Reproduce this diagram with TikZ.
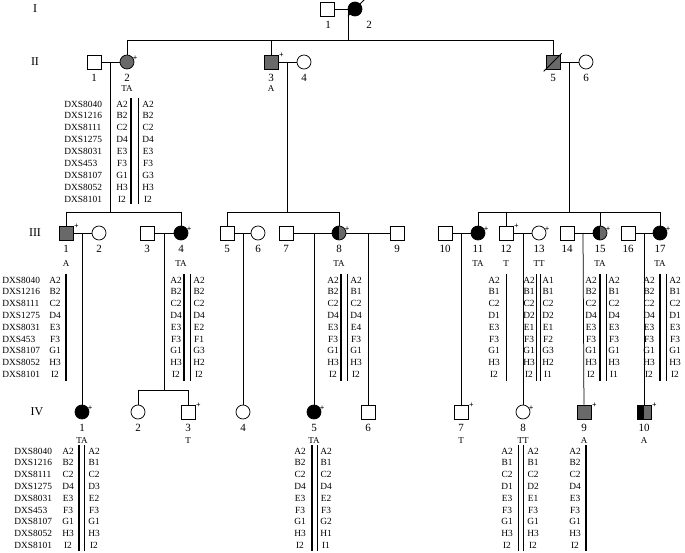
\documentclass[tikz,border=0pt]{standalone}
\usepackage{fontspec}
\setmainfont{Liberation Serif}
\definecolor{affgray}{RGB}{105,105,105}
\tikzset{every picture/.style={line width=0.75pt}}
\tikzset{
  male/.style={draw,rectangle,minimum size=14pt,inner sep=0pt},
  female/.style={draw,circle,minimum size=14pt,inner sep=0pt},
  halffill/.style={path picture={
    \fill[black] (path picture bounding box.north west) rectangle (path picture bounding box.south);
    \fill[affgray] (path picture bounding box.north) rectangle (path picture bounding box.south east);}},
  lbl/.style={inner sep=0pt,font=\fontsize{11}{11}\selectfont},
  gt/.style={inner sep=0pt,font=\fontsize{9}{9}\selectfont},
  al/.style={inner sep=0pt,font=\fontsize{9.4}{9.4}\selectfont},
  gen/.style={inner sep=0pt,font=\fontsize{12}{12}\selectfont},
  thickbar/.style={line width=2.2pt},
  thinbar/.style={line width=0.8pt},
}
% column of alleles: x, top y, step, list
\newcommand{\hapcol}[4]{\edef\hlist{#4}\foreach \a [count=\i] in \hlist \node[al] at (#1,{#2+(\i-1)*#3}) {\a};}
% marker names
\newcommand{\markers}[3]{\foreach \m [count=\i] in {DXS8040,DXS1216,DXS8111,DXS1275,DXS8031,DXS453,DXS8107,DXS8052,DXS8101}
  \node[al,anchor=west] at (#1,{#2+(\i-1)*#3}) {\m};}
\newcommand{\plus}[1]{\node[inner sep=0pt,font=\fontsize{8}{8}\selectfont\bfseries] at ([xshift=3pt,yshift=1pt]#1.north east) {+};}
\newcommand{\hapA}{A2,B2,C2,D4,E3,F3,G1,H3,I2}

\begin{document}
\begin{tikzpicture}[x=1pt,y=1pt,yscale=-1,xscale=1]
\useasboundingbox (0,0) rectangle (685,553);

% generation labels
\node[gen] (gI) at (35,9) {I};
\node[gen] (gII) at (35,62) {II};
\node[gen] (gIII) at (35,233) {III};
\node[gen] (gIV) at (37,412) {IV};

% Generation I
\node[male] (I1) at (327,9) {};
\node[female,fill=black] (I2) at (355,9) {};
\draw (I2.south west) ++(-2,2) -- ++(17,-17);
\node[lbl] at (328,25) {1};
\node[lbl] at (369,25) {2};
\draw (I1) -- (I2);
\coordinate (cI) at (348,9);
\coordinate (sI) at (348,40);
\draw (cI) -- (sI);
\draw (127,40) -- (553,40);

% Generation II
\node[male] (II1) at (94,62) {};
\node[female,fill=affgray] (II2) at (127,62) {};
\node[male,fill=affgray] (II3) at (271,62) {};
\node[female] (II4) at (304,62) {};
\node[male,fill=affgray] (II5) at (553,62) {};
\node[female] (II6) at (586,62) {};
\draw (II5.south west) ++(-2,2) -- ++(18,-18);
\plus{II2} \plus{II3}
\foreach \n/\x in {1/94,2/127,3/271,4/304,5/553,6/586} \node[lbl] at (\x,78) {\n};
\node[gt] at (127,89) {TA};
\node[gt] at (271,89) {A};
\draw (II2) -- (127,40);
\draw (II3) -- (271,40);
\draw (II5) -- (553,40);
\draw (II1) -- (II2);
\draw (II3) -- (II4);
\draw (II5) -- (II6);
\draw (110,62) -- (110,212);
\draw (287,62) -- (287,212);
\draw (569,62) -- (569,212);

% haplotype II-2
\markers{64}{104}{11.9}
\hapcol{122}{104}{11.9}{\hapA}
\hapcol{148}{104}{11.9}{A2,B2,C2,D4,E3,F3,G3,H3,I2}
\draw[thickbar] (131,98) -- (131,204);
\draw[thinbar] (138,98) -- (138,204);

% Generation III
\node[male,fill=affgray] (III1) at (66,233) {};
\node[female] (III2) at (99,233) {};
\node[male] (III3) at (147,233) {};
\node[female,fill=black] (III4) at (181,233) {};
\node[male] (III5) at (227,233) {};
\node[female] (III6) at (258,233) {};
\node[male] (III7) at (286,233) {};
\node[female,halffill] (III8) at (339,233) {};
\node[male] (III9) at (397,233) {};
\node[male] (III10) at (445,233) {};
\node[female,fill=black] (III11) at (478,233) {};
\node[male] (III12) at (506,233) {};
\node[female] (III13) at (539,233) {};
\node[male] (III14) at (567,233) {};
\node[female,halffill] (III15) at (600,233) {};
\node[male] (III16) at (628,233) {};
\node[female,fill=black] (III17) at (660,233) {};
\foreach \n in {1,4,8,11,12,13,15,17} {\plus{III\n}}
\foreach \n/\x in {1/66,2/99,3/147,4/181,5/227,6/258,7/286,8/339,9/397,10/445,11/478,12/506,13/539,14/567,15/600,16/628,17/660}
  \node[lbl] at (\x,249) {\n};
\foreach \t/\x in {A/66,TA/181,TA/339,TA/478,T/506,TT/539,TA/600,TA/660}
  \node[gt] at (\x,264) {\t};
% sibships
\draw (66,212) -- (181,212);
\draw (227,212) -- (339,212);
\draw (478,212) -- (660,212);
\foreach \n in {1,4,5,8,11,12,15,17} {\draw (III\n.north) -- (III\n.north |- 0,212);}
% couples
\draw (III1) -- (III2);
\draw (III3) -- (III4);
\draw (III5) -- (III6);
\draw (III7) -- (III8);
\draw (III8) -- (III9);
\draw (III10) -- (III11);
\draw (III12) -- (III13);
\draw (III14) -- (III15);
\draw (III16) -- (III17);

% haplotypes III
\markers{2}{280}{11.8}
\hapcol{55}{280}{11.8}{\hapA}
\draw[thickbar] (66,274) -- (66,381);
\hapcol{176}{280}{11.8}{\hapA}
\hapcol{199}{280}{11.8}{A2,B2,C2,D4,E2,F1,G3,H2,I2}
\draw[thickbar] (184,274) -- (184,381);
\draw[thinbar] (190,274) -- (190,381);
\hapcol{333}{280}{11.8}{\hapA}
\hapcol{356}{280}{11.8}{A2,B1,C2,D4,E4,F3,G1,H3,I2}
\draw[thickbar] (341,274) -- (341,381);
\draw[thinbar] (347,274) -- (347,381);
\hapcol{494}{280}{11.8}{A2,B1,C2,D1,E3,F3,G1,H3,I2}
\draw[thinbar] (506,274) -- (506,381);
\hapcol{529}{280}{11.8}{A2,B1,C2,D2,E1,F3,G1,H3,I2}
\hapcol{548}{280}{11.8}{A1,B1,C2,D2,E1,F2,G3,H2,I1}
\draw[thinbar] (536,274) -- (536,381);
\draw[thinbar] (540,274) -- (540,381);
\hapcol{591}{280}{11.8}{\hapA}
\hapcol{614}{280}{11.8}{A2,B1,C2,D4,E3,F3,G1,H3,I1}
\draw[thickbar] (600,274) -- (600,381);
\draw[thinbar] (606,274) -- (606,381);
\hapcol{649}{280}{11.8}{\hapA}
\hapcol{675}{280}{11.8}{A2,B1,C2,D1,E3,F3,G1,H3,I2}
\draw[thickbar] (660,274) -- (660,381);
\draw[thinbar] (666,274) -- (666,381);

% Generation IV
\node[female,fill=black] (IV1) at (82,412) {};
\node[female] (IV2) at (138,412) {};
\node[male] (IV3) at (188,412) {};
\node[female] (IV4) at (243,412) {};
\node[female,fill=black] (IV5) at (314,412) {};
\node[male] (IV6) at (368,412) {};
\node[male] (IV7) at (461,412) {};
\node[female] (IV8) at (523,412) {};
\node[male,fill=affgray] (IV9) at (584,412) {};
\node[male,halffill] (IV10) at (644,412) {};
\foreach \n in {1,3,5,7,8,9,10} {\plus{IV\n}}
\foreach \n/\x in {1/82,2/138,3/188,4/243,5/314,6/368,7/461,8/523,9/584,10/644}
  \node[lbl] at (\x,428) {\n};
\foreach \t/\x in {TA/82,T/188,TA/314,T/461,TT/523,A/584,A/644}
  \node[gt] at (\x,441) {\t};
\draw (IV1) -- (82,233);
\draw (164,233) -- (164,390);
\draw (138,390) -- (188,390);
\draw (IV2) -- (138,390);
\draw (IV3) -- (188,390);
\draw (IV4) -- (243,233);
\draw (IV5) -- (314,233);
\draw (IV6) -- (368,233);
\draw (IV7) -- (461,233);
\draw (IV8) -- (523,233);
\draw (IV9) -- (583,233);
\draw (IV10) -- (644,233);

% haplotypes IV
\markers{14}{451}{11.8}
\hapcol{68}{451}{11.8}{\hapA}
\hapcol{94}{451}{11.8}{A2,B1,C2,D3,E2,F3,G1,H3,I2}
\draw[thickbar] (79,445) -- (79,551);
\draw[thinbar] (84,445) -- (84,551);
\hapcol{300}{451}{11.8}{\hapA}
\hapcol{326}{451}{11.8}{A2,B1,C2,D4,E2,F3,G2,H1,I1}
\draw[thickbar] (312,445) -- (312,551);
\draw[thinbar] (317,445) -- (317,551);
\hapcol{507}{451}{11.8}{A2,B1,C2,D1,E3,F3,G1,H3,I2}
\hapcol{533}{451}{11.8}{A2,B1,C2,D2,E1,F3,G1,H3,I2}
\draw[thinbar] (518,445) -- (518,551);
\draw[thinbar] (523,445) -- (523,551);
\hapcol{575}{451}{11.8}{\hapA}
\draw[thickbar] (586,445) -- (586,551);
\end{tikzpicture}
\end{document}
